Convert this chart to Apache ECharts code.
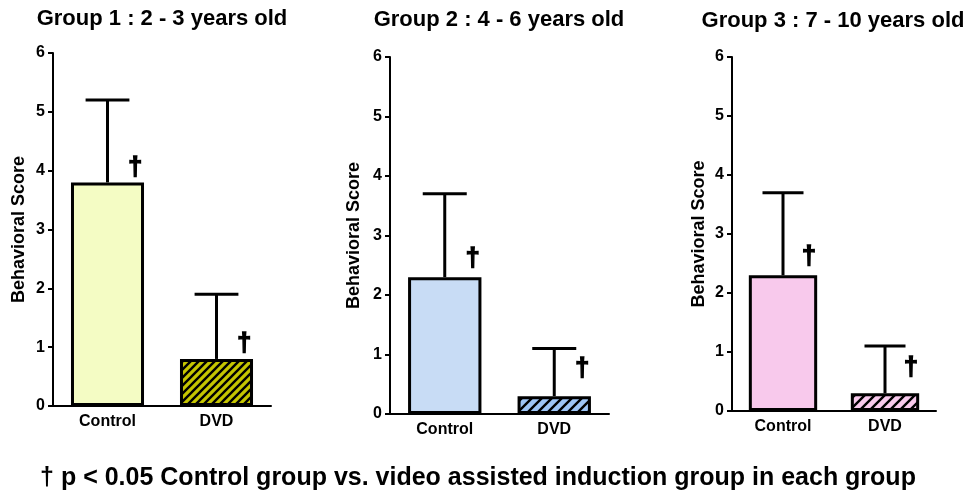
<!DOCTYPE html>
<html><head><meta charset="utf-8">
<script src="https://cdn.jsdelivr.net/npm/echarts@6/dist/echarts.min.js"></script>
<style>html,body{margin:0;padding:0;background:#fff}#c{width:972px;height:493px}</style>
</head><body><div id="c"></div>
<script>
const titles = ['Group 1 : 2 - 3 years old', 'Group 2 : 4 - 6 years old', 'Group 3 : 7 - 10 years old'];
const categories = ['Control', 'DVD'];
const means = [[3.8, 0.8], [2.3, 0.3], [2.3, 0.3]];
const errUpper = [[5.2, 1.9], [3.7, 1.1], [3.7, 1.1]];
const daggerAt = [[4.05, 1.05], [2.6, 0.75], [2.6, 0.73]];
const yMin = 0, yMax = 6, yInterval = 1;
const yName = 'Behavioral Score';
const footnote = '\u2020 p < 0.05 Control group vs. video assisted induction group in each group';

const FONT = '"Liberation Sans", Arial, sans-serif';
const grids = [
  {left: 53, top: 53, width: 218, height: 353},
  {left: 390, top: 57, width: 219, height: 357},
  {left: 732, top: 57, width: 204, height: 354}
];
const nameGaps = [25, 27, 24];
const titlePos = [[162, 19], [499, 20], [833, 21]];
const controlColors = ['#f4fcc4', '#c8dcf5', '#f8c9ec'];
const dvdColors = ['#c5c500', '#9ec5f5', '#f8c9ec'];
const stripeSteps = [8, 10, 10];

function stripes(bg, s) {
  const c = document.createElement('canvas');
  c.width = c.height = s;
  const x = c.getContext('2d');
  x.fillStyle = bg; x.fillRect(0, 0, s, s);
  x.strokeStyle = '#000'; x.lineWidth = 2.4;
  x.beginPath();
  x.moveTo(0, s); x.lineTo(s, 0);
  x.moveTo(-s / 2, s / 2); x.lineTo(s / 2, -s / 2);
  x.moveTo(s / 2, 1.5 * s); x.lineTo(1.5 * s, s / 2);
  x.stroke();
  return c;
}

const BAR_W = 0.67;
const xAxes = [], yAxes = [], series = [], graphics = [];
grids.forEach((g, i) => {
  xAxes.push({
    type: 'category', gridIndex: i, data: categories,
    axisLine: {lineStyle: {color: '#000', width: 2}},
    axisTick: {alignWithLabel: true, length: 5, lineStyle: {color: '#000', width: 2}},
    axisLabel: {color: '#000', fontWeight: 'bold', fontSize: 16, fontFamily: FONT, margin: 8}
  });
  yAxes.push({
    type: 'value', gridIndex: i, min: yMin, max: yMax, interval: yInterval,
    name: yName, nameLocation: 'middle', nameGap: nameGaps[i],
    nameTextStyle: {color: '#000', fontWeight: 'bold', fontSize: 18, fontFamily: FONT},
    axisLine: {show: true, lineStyle: {color: '#000', width: 2}},
    axisTick: {show: true, length: 5, lineStyle: {color: '#000', width: 2}},
    splitLine: {show: false},
    axisLabel: {color: '#000', fontWeight: 'bold', fontSize: 16, fontFamily: FONT, margin: 8}
  });
  series.push({
    type: 'custom', xAxisIndex: i, yAxisIndex: i, z: 1,
    data: means[i].map((m, j) => [j, m, errUpper[i][j]]),
    encode: {x: 0, y: [1, 2]},
    renderItem: (params, api) => {
      const b = api.coord([api.value(0), api.value(1)]);
      const t = api.coord([api.value(0), api.value(2)]);
      const bw = api.size([1, 0])[0] * BAR_W;
      const cap = bw * 0.6;
      return {type: 'group', children: [
        {type: 'line', shape: {x1: b[0], y1: b[1], x2: t[0], y2: t[1]}, style: {stroke: '#000', lineWidth: 3}},
        {type: 'line', shape: {x1: t[0] - cap / 2, y1: t[1], x2: t[0] + cap / 2, y2: t[1]}, style: {stroke: '#000', lineWidth: 3}}
      ]};
    }
  });
  series.push({
    type: 'bar', xAxisIndex: i, yAxisIndex: i, z: 2, barWidth: (BAR_W * 100) + '%',
    data: means[i].map((v, j) => ({
      value: v,
      itemStyle: {color: j === 0 ? controlColors[i] : {image: stripes(dvdColors[i], stripeSteps[i]), repeat: 'repeat'}}
    })),
    itemStyle: {borderColor: '#000', borderWidth: 3}
  });
  series.push({
    type: 'custom', xAxisIndex: i, yAxisIndex: i, z: 3,
    data: daggerAt[i].map((v, j) => [j, v]),
    encode: {x: 0, y: 1},
    renderItem: (params, api) => {
      const p = api.coord([api.value(0), api.value(1)]);
      const bw = api.size([1, 0])[0] * BAR_W;
      return {type: 'text', x: p[0] + bw * 0.38, y: p[1],
        style: {text: '\u2020', font: 'bold 25px ' + FONT, fill: '#000', stroke: '#000', lineWidth: 1.4,
          align: 'center', verticalAlign: 'middle'}};
    }
  });
  graphics.push({type: 'text', x: titlePos[i][0], y: titlePos[i][1],
    style: {text: titles[i], font: 'bold 22px ' + FONT, fill: '#000', align: 'center', verticalAlign: 'middle'}});
});
graphics.push({type: 'text', x: 478, y: 478,
  style: {text: footnote, font: 'bold 25px ' + FONT, fill: '#000', align: 'center', verticalAlign: 'middle'}});

const chart = echarts.init(document.getElementById('c'), null, {renderer: 'canvas'});
chart.setOption({
  animation: false,
  backgroundColor: '#fff',
  grid: grids,
  xAxis: xAxes,
  yAxis: yAxes,
  series: series,
  graphic: graphics
});
</script></body></html>
